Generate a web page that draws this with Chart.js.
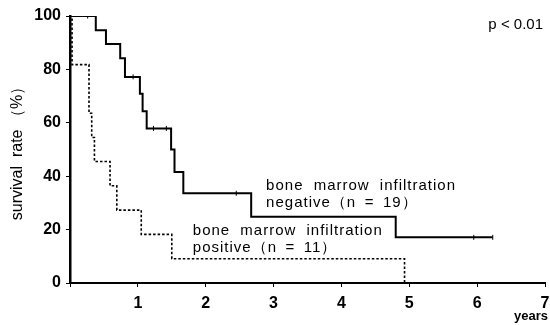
<!DOCTYPE html>
<html>
<head>
<meta charset="utf-8">
<script src="https://cdn.jsdelivr.net/npm/chart.js@4/dist/chart.umd.min.js"></script>
<style>
  html, body { margin: 0; padding: 0; background: #fff; }
  #wrap { width: 550px; height: 325px; }
</style>
</head>
<body>
<div id="wrap"><canvas id="kmChart"></canvas></div>
<script>
// survival curves (years, %)
const negTimes = [0, 0.38, 0.53, 0.74, 0.81, 1.03, 1.07, 1.13, 1.49, 1.54, 1.67, 2.67, 4.80, 6.23];
const negSurv  = [100, 94.7, 89.5, 84.2, 77.2, 70.9, 64.3, 57.9, 50.0, 41.6, 33.6, 24.8, 17.1, 17.1];
const negCensorTimes = [0.26, 0.93, 1.23, 1.42, 2.45, 5.95, 6.23];
const negCensorSurv  = [100, 77.2, 57.9, 57.9, 33.6, 17.1, 17.1];

const posTimes = [0, 0.03, 0.28, 0.32, 0.36, 0.59, 0.69, 1.05, 1.50, 4.93];
const posSurv  = [100, 81.8, 63.6, 54.5, 45.5, 36.4, 27.3, 18.2, 9.1, 0];

const yTicks = [0, 20, 40, 60, 80, 100];
const xTicks = [1, 2, 3, 4, 5, 6, 7];

const toPoints = (xs, ys) => xs.map((x, i) => ({ x: x, y: ys[i] }));

// text labels on the plot (en spaces around "=" so wordSpacing does not stretch them)
const notes = [
    { text: "bone marrow infiltration", x: 2.89, y: 36.3 },
    { text: "negative（n\u2002=\u200219）", x: 2.89, y: 30.0 },
    { text: "bone marrow infiltration", x: 1.81, y: 19.5 },
    { text: "positive（n\u2002=\u200211）", x: 1.81, y: 13.1 },
];

const textPlugin = {
    id: "kmText",
    afterDraw(chart) {
        const { ctx, scales } = chart;
        ctx.save();
        ctx.fillStyle = "#000";
        ctx.textBaseline = "middle";
        ctx.textAlign = "left";
        ctx.font = "15px 'Liberation Sans', Arial, sans-serif";
        ctx.wordSpacing = "5px";
        ctx.letterSpacing = "1px";
        notes.forEach(n => {
            ctx.fillText(n.text, scales.x.getPixelForValue(n.x), scales.y.getPixelForValue(n.y));
        });
        ctx.wordSpacing = "0px";
        ctx.letterSpacing = "0px";

        ctx.font = "15px 'Liberation Sans', Arial, sans-serif";
        ctx.textAlign = "right";
        ctx.fillText("p < 0.01", scales.x.getPixelForValue(7) - 2, scales.y.getPixelForValue(96.6));

        ctx.font = "bold 13px 'Liberation Sans', Arial, sans-serif";
        ctx.fillText("years", scales.x.getPixelForValue(7) + 3, scales.x.bottom - 9);
        ctx.restore();
    }
};

const ctx = document.getElementById("kmChart").getContext("2d");

new Chart(ctx, {
    type: "line",
    data: {
        datasets: [
            {
                label: "negative",
                data: toPoints(negTimes, negSurv),
                stepped: "before",
                borderColor: "#000",
                borderWidth: 2,
                pointRadius: 0,
                fill: false,
            },
            {
                label: "positive",
                data: toPoints(posTimes, posSurv),
                stepped: "before",
                borderColor: "#000",
                borderWidth: 1.6,
                borderDash: [2.5, 2],
                pointRadius: 0,
                fill: false,
            },
            {
                type: "scatter",
                label: "censored",
                data: toPoints(negCensorTimes, negCensorSurv),
                pointStyle: "line",
                rotation: 90,
                pointRadius: 2.5,
                borderColor: "#000",
                borderWidth: 1,
                showLine: false,
            }
        ]
    },
    options: {
        responsive: true,
        maintainAspectRatio: false,
        animation: false,
        layout: { padding: { top: 16, right: 3, left: 0, bottom: 0 } },
        plugins: {
            legend: { display: false },
            tooltip: { enabled: false },
        },
        scales: {
            x: {
                type: "linear",
                min: 0,
                max: 7,
                afterBuildTicks: s => { s.ticks = [0, ...xTicks].map(v => ({ value: v })); },
                afterFit: s => { s.height = 42; s.paddingRight = 0; s.paddingLeft = 0; },
                border: { display: true, color: "#000", width: 2 },
                grid: { drawOnChartArea: false, drawTicks: true, tickLength: 4, color: "#000", lineWidth: 1 },
                ticks: {
                    color: "#000",
                    padding: 7,
                    font: { family: "'Liberation Sans', Arial, sans-serif", size: 16, weight: "bold" },
                    callback: v => (v === 0 ? "" : String(v)),
                },
            },
            y: {
                min: 0,
                max: 100,
                afterBuildTicks: s => { s.ticks = yTicks.map(v => ({ value: v })); },
                afterFit: s => { s.width = 70; s.paddingTop = 0; s.paddingBottom = 0; },
                border: { display: true, color: "#000", width: 2.5 },
                grid: { drawOnChartArea: false, drawTicks: true, tickLength: 4, color: "#000", lineWidth: 1 },
                ticks: {
                    color: "#000",
                    padding: 5,
                    font: { family: "'Liberation Sans', Arial, sans-serif", size: 16, weight: "bold" },
                },
                title: {
                    display: true,
                    text: "survival  rate （%）",
                    color: "#000",
                    padding: { top: 8, bottom: 0 },
                    font: { family: "'Liberation Sans', Arial, sans-serif", size: 16 },
                },
            },
        },
    },
    plugins: [textPlugin],
});
</script>
</body>
</html>
